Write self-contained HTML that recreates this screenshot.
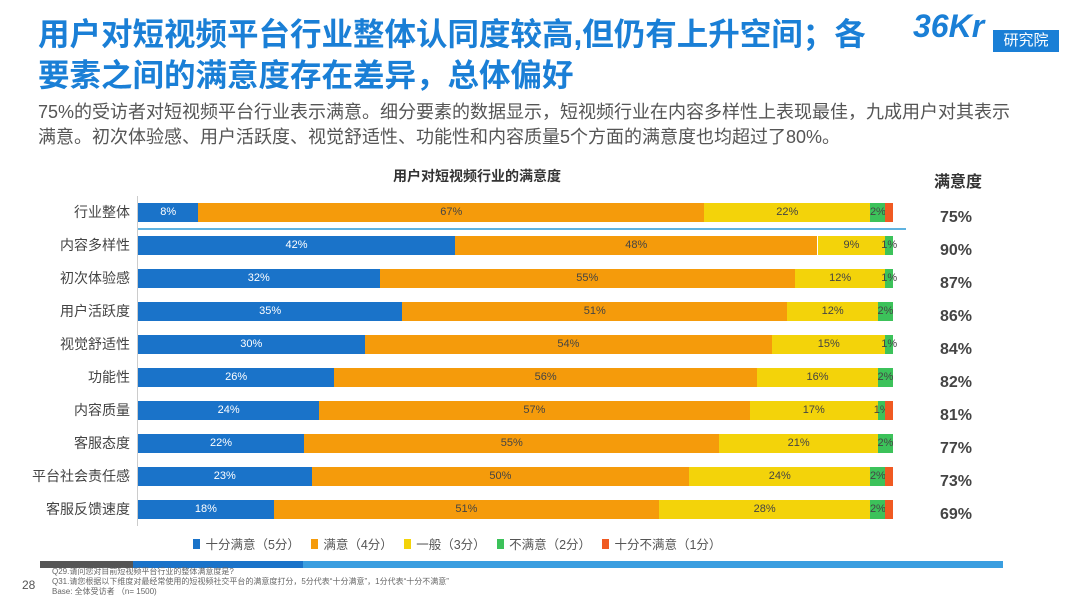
<!DOCTYPE html>
<html><head><meta charset="utf-8"><style>
*{margin:0;padding:0;box-sizing:border-box}
body{width:1080px;height:608px;background:#fff;position:relative;overflow:hidden;font-family:"Liberation Sans","Noto Sans CJK SC",sans-serif}
.a{position:absolute;white-space:nowrap}
.t{left:38px;top:14px;font-size:31.5px;font-weight:bold;color:#1a7fd6;line-height:41px}
.s{left:38px;top:100px;font-size:18px;color:#555;line-height:25px}
.bar{position:absolute;height:19px}
.lbl{position:absolute;font-size:11px;text-align:center;line-height:19px}
.cat{position:absolute;right:950px;font-size:14px;color:#444;line-height:19px}
.pct{position:absolute;left:940px;font-size:16px;font-weight:bold;color:#444;line-height:19px}
</style></head><body>
<div class="a t">用户对短视频平台行业整体认同度较高,但仍有上升空间；各<br>要素之间的满意度存在差异，总体偏好</div>
<div class="a" style="left:913px;top:8px;font-size:32px;font-weight:bold;color:#1a7fd6;font-style:italic">36Kr</div>
<div class="a" style="left:993px;top:30px;width:66px;height:22px;background:#1a7fd6;color:#fff;font-size:15px;text-align:center;line-height:22px">研究院</div>
<div class="a s">75%的受访者对短视频平台行业表示满意。细分要素的数据显示，短视频行业在内容多样性上表现最佳，九成用户对其表示<br>满意。初次体验感、用户活跃度、视觉舒适性、功能性和内容质量5个方面的满意度也均超过了80%。</div>
<div class="a" style="left:393px;top:166px;font-size:14px;font-weight:bold;color:#333">用户对短视频行业的满意度</div>
<div class="a" style="left:934px;top:168px;font-size:16px;font-weight:bold;color:#333">满意度</div>
<div class="a" style="left:137px;top:196px;width:1px;height:330px;background:#ccc"></div>
<div class="a" style="left:138px;top:228px;width:768px;height:2px;background:#5fb3e0"></div>
<div id="c"></div>
<div class="a" style="left:193px;top:534px;font-size:12.5px;color:#555;word-spacing:2px">
<span style="display:inline-block;width:7px;height:10px;background:#1a73c9"></span> 十分满意（5分）&nbsp;
<span style="display:inline-block;width:7px;height:10px;background:#f59b0b"></span> 满意（4分）&nbsp;
<span style="display:inline-block;width:7px;height:10px;background:#f3d30a"></span> 一般（3分）&nbsp;
<span style="display:inline-block;width:7px;height:10px;background:#3cc25a"></span> 不满意（2分）&nbsp;
<span style="display:inline-block;width:7px;height:10px;background:#f05a22"></span> 十分不满意（1分）</div>
<div class="a" style="left:40px;top:561px;width:93px;height:7px;background:#555"></div>
<div class="a" style="left:133px;top:561px;width:170px;height:7px;background:#1a73c9"></div>
<div class="a" style="left:303px;top:561px;width:700px;height:7px;background:#3a9ee0"></div>
<div class="a" style="left:52px;top:567px;font-size:8px;color:#666;line-height:10px">Q29.请问您对目前短视频平台行业的整体满意度是?<br>Q31.请您根据以下维度对最经常使用的短视频社交平台的满意度打分，5分代表“十分满意”，1分代表“十分不满意”<br>Base: 全体受访者 （n= 1500)</div>
<div class="a" style="left:22px;top:578px;font-size:12px;color:#555">28</div>
<script>
var d=[["行业整体",[8,67,22,2,1],75],["内容多样性",[42,48,9,1,0],90],["初次体验感",[32,55,12,1,0],87],["用户活跃度",[35,51,12,2,0],86],["视觉舒适性",[30,54,15,1,0],84],["功能性",[26,56,16,2,0],82],["内容质量",[24,57,17,1,1],81],["客服态度",[22,55,21,2,0],77],["平台社会责任感",[23,50,24,2,1],73],["客服反馈速度",[18,51,28,2,1],69]];
var col=["#1a73c9","#f59b0b","#f3d30a","#3cc25a","#f05a22"],tc=["#fff","#444","#444","#444","#444"],h="";
d.forEach(function(r,i){var y=203+i*33,x=138;
h+='<div class="cat" style="top:'+y+'px">'+r[0]+'</div>';
h+='<div class="pct" style="top:'+(y+5)+'px">'+r[2]+'%</div>';
r[1].forEach(function(v,j){if(!v)return;var w=v*7.55;
h+='<div class="bar" style="left:'+x+'px;top:'+y+'px;width:'+w+'px;background:'+col[j]+'"></div>';
if(j<4)h+='<div class="lbl" style="left:'+(x-10)+'px;top:'+y+'px;width:'+(w+20)+'px;color:'+tc[j]+'">'+v+'%</div>';x+=w;});});
document.getElementById("c").innerHTML=h;
</script>
</body></html>
